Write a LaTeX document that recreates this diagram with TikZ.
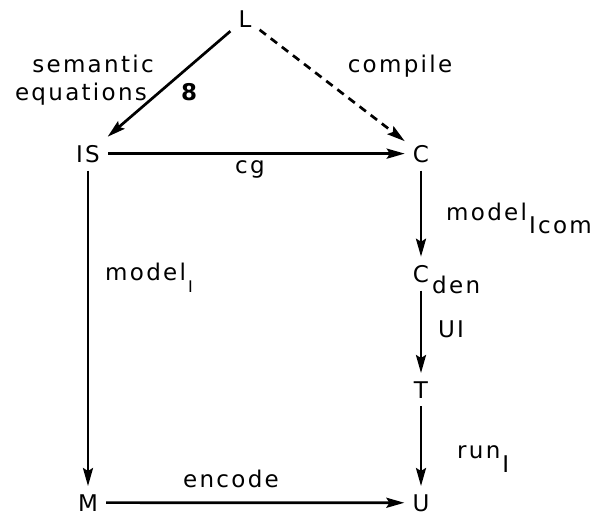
\documentclass[tikz,border=0pt]{standalone}
\usepackage{fontspec}
\setmainfont{DejaVu Sans}[LetterSpace=10]
\usetikzlibrary{arrows.meta}
\newcommand{\lowsub}[2][13pt]{\hspace{2pt}\raisebox{-#1}{#2}}

\begin{document}
\begin{tikzpicture}[
    x=1pt, y=-1pt,
    font=\fontsize{23}{27}\selectfont,
    obj/.style={inner sep=8pt, anchor=base},
    txt/.style={inner sep=0pt, anchor=base},
    map/.style={-{Stealth[length=18pt, width=10pt, inset=3pt]}, line width=2.7pt},
    dmap/.style={map, dash pattern=on 8pt off 6pt}
]
    \useasboundingbox (0,0) rectangle (597,517);

    % objects
    \node[obj] (l) at (245,27) {L};
    \node[obj] (is) at (88,162) {IS};
    \node[obj] (c) at (421,162) {C};
    \node[obj] (cden) at (421,282) {C};
    \node[obj] (t) at (421,398) {T};
    \node[obj] (m) at (88,511) {M};
    \node[obj] (u) at (421,511) {U};

    % maps
    \draw[map] (l) -- (is);
    \draw[dmap] (l) -- (c);
    \draw[map] (is) -- (c);
    \draw[map] (is) -- (m);
    \draw[map] (c) -- (cden);
    \draw[map] (cden) -- (t);
    \draw[map] (t) -- (u);
    \draw[map] (m) -- (u);

    % labels
    \node[txt] (sem) at (93,72) {semantic};
    \node[txt] (eqn) at (81,100) {equations};
    \node[txt, font=\fontsize{23}{27}\selectfont\bfseries] (sym) at (189,100) {8};
    \node[txt] (comp) at (400,72) {compile};
    \node[txt] (cglab) at (250,173) {cg};
    \node[txt, anchor=base west] (modi) at (105,280) {model\lowsub[12pt]{\fontsize{16}{18}\selectfont I}};
    \node[txt, anchor=base west] (modc) at (446,220) {model\lowsub{Icom}};
    \node[txt, anchor=base west] (den) at (432,293) {den};
    \node[txt] (ui) at (451,337) {UI};
    \node[txt, anchor=base west] (run) at (457,458) {run\lowsub[14pt]{I}};
    \node[txt] (enc) at (231,487) {encode};
\end{tikzpicture}
\end{document}
